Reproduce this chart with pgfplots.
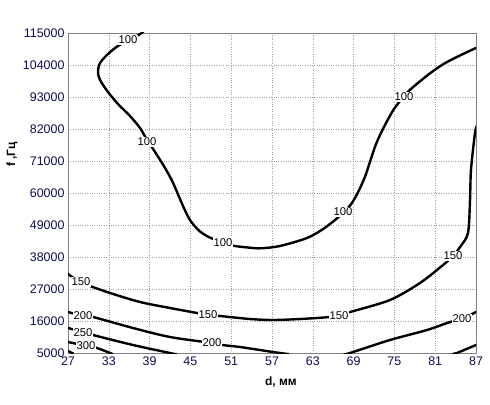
\documentclass[border=0pt]{standalone}
\usepackage{pgfplots}
\pgfplotsset{compat=1.18}
\usepackage{fontspec}
\setmainfont{Liberation Sans}
\definecolor{tickblue}{RGB}{12,12,80}
\definecolor{framegray}{RGB}{128,128,128}
\tikzset{lbl/.style={font=\fontsize{11.3}{13}\selectfont, fill=white, inner sep=0.6bp, text=black}}
\begin{document}
\begin{tikzpicture}[x=1bp,y=1bp]
\path[use as bounding box] (-68,-51) rectangle (422,353);
\begin{axis}[
  at={(0,0)}, anchor=south west, scale only axis,
  width=408bp, height=320bp,
  xmin=27, xmax=87, ymin=5000, ymax=115000,
  xtick={27,33,39,45,51,57,63,69,75,81,87},
  ytick={5000,16000,27000,38000,49000,60000,71000,82000,93000,104000,115000},
  yticklabels={5000,16000,27000,38000,49000,60000,71000,82000,93000,104000,115000},
  scaled y ticks=false,
  /pgf/number format/assume math mode=true,
  tick label style={font=\fontsize{12.5}{14}\selectfont, text=tickblue},
  axis line style={framegray},
  major tick length=0pt,
  grid=major,
  grid style={dotted, gray!75, line width=0.6bp},
  xlabel={d, мм}, ylabel={f ,Гц},
  xlabel style={at={(axis description cs:0.522,-0.0906)}, anchor=center, font=\bfseries\fontsize{12}{14}\selectfont},
  ylabel style={at={(axis description cs:-0.137,0.62)}, anchor=center, font=\bfseries\fontsize{12}{14}\selectfont},
]
% contour 100
\addplot[black, line width=2.4bp, smooth, tension=0.5] coordinates {
(38.1,115600) (37.84,115000) (36.85,113625) (34.35,110531) (32.88,107781) (31.71,104687) (31.41,101594) (31.71,98844) (32.88,94719) (34.35,90594) (36.12,86469) (37.59,82344) (38.62,78219) (39.54,75022) (41.01,69625) (42.25,64469) (43.22,59312) (43.96,55291) (44.94,50719) (46.16,47281) (47.4,45219) (48.37,44187) (49.79,42812) (51.56,41781) (53.76,41197) (55.4,41000) (58.18,41781) (62.15,44531) (64.5,47600) (66.26,50719) (67.59,53469) (68.72,56459) (69.69,60447) (70.68,65603) (71.41,70759) (72.15,75916) (72.88,79937) (73.87,84509) (74.84,88531) (75.57,90834) (76.41,93344) (77.54,95991) (80.24,101147) (82.74,105031) (87,109844) (88,110300)
};
% contour 150
\addplot[black, line width=2.4bp, smooth, tension=0.5] coordinates {
(26.5,33000) (27,32156) (28.76,29406) (30.24,28031) (33.18,25625) (37.59,22531) (42,20469) (45.97,18750) (47.59,18062) (49.35,17719) (53.76,16687) (57.15,16344) (61.12,16687) (65.53,17375) (66.85,18062) (68.47,19094) (74.35,23219) (78.76,29062) (82.15,35250) (83.62,38344) (84.65,41437) (85.82,46250) (86.12,57594) (86.26,67906) (86.85,80625) (87.1,83000)
};
% contour 200 left
\addplot[black, line width=2.4bp, smooth, tension=0.5] coordinates {
(26.5,19400) (27,19094) (29.21,17719) (30.68,17375) (36.56,13594) (42,10500) (48.18,8437) (49.65,7750) (52.29,7062) (57.15,5344) (59.5,4600)
};
% contour 200 right
\addplot[black, line width=2.4bp, smooth, tension=0.5] coordinates {
(67.5,4500) (68.47,5000) (74.35,9469) (79.79,12906) (83.18,15656) (84.94,16687) (87,19094) (87.6,19800)
};
% contour 250
\addplot[black, line width=2.4bp, smooth, tension=0.5] coordinates {
(26.5,13900) (27,13594) (29.21,12219) (30.68,11187) (36.56,7750) (42,5000) (43,4500)
};
\addplot[black, line width=2.4bp] coordinates {
(83.5,4600) (84.21,5000) (87,7750) (87.5,8200)
};
% contour 300
\addplot[black, line width=2.4bp, smooth, tension=0.5] coordinates {
(26.5,9000) (27,8781) (29.79,7406) (31.26,6719) (33.18,5000) (33.6,4600)
};
% contour 350
\addplot[black, line width=2.4bp] coordinates {
(26.7,5900) (27,5687) (27.6,5000) (27.8,4800)
};
% labels
\node[lbl] at (axis cs:35.82,112594) {100};
\node[lbl] at (axis cs:38.62,77531) {100};
\node[lbl] at (axis cs:49.79,42812) {100};
\node[lbl] at (axis cs:67.44,53469) {100};
\node[lbl] at (axis cs:76.41,93000) {100};
\node[lbl] at (axis cs:28.9,29406) {150};
\node[lbl] at (axis cs:47.59,18062) {150};
\node[lbl] at (axis cs:66.85,17719) {150};
\node[lbl] at (axis cs:83.62,38344) {150};
\node[lbl] at (axis cs:29.21,17719) {200};
\node[lbl] at (axis cs:48.18,8437) {200};
\node[lbl] at (axis cs:84.94,16687) {200};
\node[lbl] at (axis cs:29.21,11875) {250};
\node[lbl] at (axis cs:29.65,7406) {300};
\end{axis}
\end{tikzpicture}
\end{document}
